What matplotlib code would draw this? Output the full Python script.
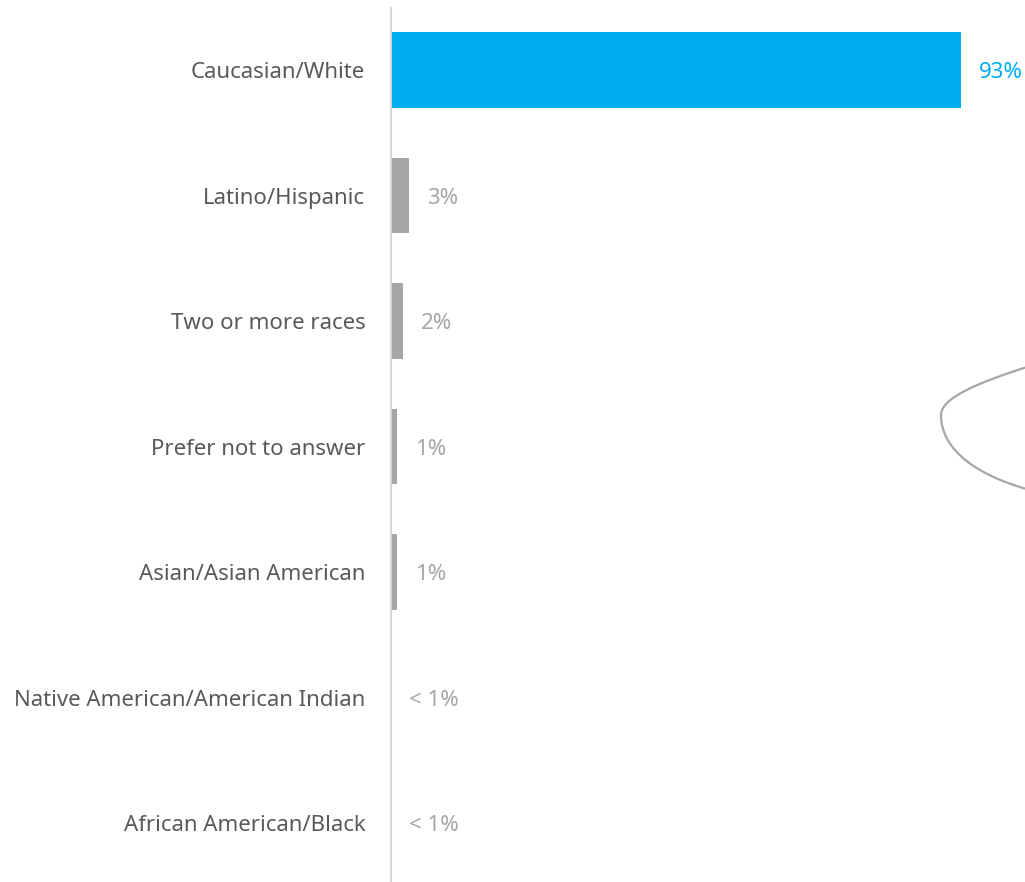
import numpy as np
import matplotlib
matplotlib.use("Agg")
import matplotlib.pyplot as plt
from matplotlib.path import Path
from matplotlib.patches import PathPatch

# Survey responses: race / ethnicity
categories = [
    "Caucasian/White",
    "Latino/Hispanic",
    "Two or more races",
    "Prefer not to answer",
    "Asian/Asian American",
    "Native American/American Indian",
    "African American/Black",
]
values = [93, 3, 2, 1, 1, 0, 0]
value_labels = ["93%", "3%", "2%", "1%", "1%", "< 1%", "< 1%"]

BLUE = "#00AEEF"
GREY = "#A6A6A6"
TEXT = "#595959"
AXIS = "#D9D9D9"

# Decorative callout outline: two cubic Bezier segments (figure pixels, y down)
callout_pts = [(1030, 366), (982.4, 381.2), (941, 397), (941, 415),
               (941, 450), (976.9, 475.5), (1030, 490)]

plt.rcParams["font.family"] = ["Noto Sans", "DejaVu Sans"]

W, H = 1025, 882
fig = plt.figure(figsize=(W / 100, H / 100), dpi=100)
ax = fig.add_axes([391 / W, 0, (W - 391) / W, 874 / H])

ypos = np.arange(len(categories))
colors = [BLUE] + [GREY] * (len(categories) - 1)
ax.barh(ypos, values, height=0.605, color=colors, zorder=2)

ax.set_xlim(0, (W - 391) / (570 / 93))
ax.set_ylim(len(categories) - 0.53, -0.494)

ax.set_yticks(ypos)
ax.set_yticklabels(categories, fontsize=16, color=TEXT)
ax.tick_params(axis="y", length=0, pad=18.5)
ax.set_xticks([])

for s in ["top", "right", "bottom"]:
    ax.spines[s].set_visible(False)
ax.spines["left"].set_color(AXIS)
ax.spines["left"].set_linewidth(1.5)
ax.spines["left"].set_zorder(3)

# value labels just past the end of each bar
off = 18 / (570 / 93)
for y, v, lab, c in zip(ypos, values, value_labels, colors):
    ax.text(v + off, y + 0.02, lab, va="center", ha="left",
            fontsize=16, color=c, clip_on=False)

# callout outline
ov = fig.add_axes([0, 0, 1, 1], zorder=5)
ov.set_xlim(0, W)
ov.set_ylim(H, 0)
ov.axis("off")
ov.patch.set_alpha(0)
codes = [Path.MOVETO] + [Path.CURVE4] * 6
ov.add_patch(PathPatch(Path(callout_pts, codes), facecolor="none",
                       edgecolor=GREY, lw=1.6))

fig.savefig("out.png", dpi=100)
